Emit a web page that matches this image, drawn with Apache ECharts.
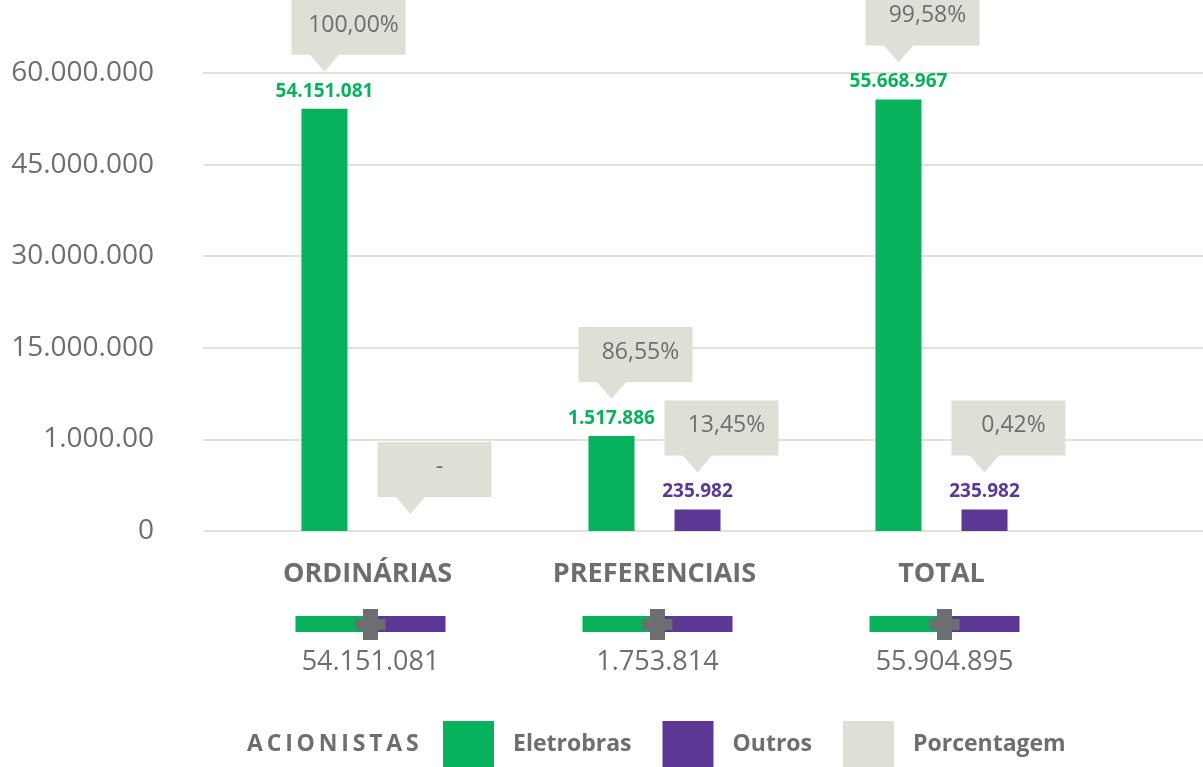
<!DOCTYPE html>
<html>
<head>
<meta charset="utf-8">
<script src="https://cdn.jsdelivr.net/npm/echarts@6/dist/echarts.min.js"></script>
<style>
  html, body { margin: 0; padding: 0; background: #fff; }
  #acionistasChart { width: 1203px; height: 767px; }
</style>
</head>
<body>
<div id="acionistasChart"></div>
<script>
// dados do gráfico
const categories = ['ORDINÁRIAS', 'PREFERENCIAIS', 'TOTAL'];
const eletrobras = [54151081, 1517886, 55668967];
const outros = [0, 235982, 235982];
const pctEletrobras = ['100,00%', '86,55%', '99,58%'];
const pctOutros = ['-', '13,45%', '0,42%'];
const totais = ['54.151.081', '1.753.814', '55.904.895'];
const yTickValues = [0, 1000000, 15000000, 30000000, 45000000, 60000000];
const yTickLabels = ['0', '1.000.00', '15.000.000', '30.000.000', '45.000.000', '60.000.000'];

const GREEN = '#08b15b';
const PURPLE = '#5c3794';
const BEIGE = '#e0dfd6';
const GREY = '#6d6e71';
const FONT = '"Open Sans", sans-serif';
const BAR_W = 46;
const HALF = 43; // distancia do centro da categoria ao centro da barra

// escala quebrada: cada faixa entre ticks ocupa a mesma altura
function toAxis(v) {
  for (let i = 1; i < yTickValues.length; i++) {
    if (v <= yTickValues[i]) {
      return i - 1 + (v - yTickValues[i - 1]) / (yTickValues[i] - yTickValues[i - 1]);
    }
  }
  return yTickValues.length - 1;
}
function fmt(v) {
  return String(v).replace(/\B(?=(\d{3})+(?!\d))/g, '.');
}

const callouts = [];
categories.forEach((c, i) => {
  callouts.push({ cat: i, side: -1, value: eletrobras[i], text: pctEletrobras[i] });
  callouts.push({ cat: i, side: 1, value: outros[i], text: pctOutros[i] });
});

const chart = echarts.init(document.getElementById('acionistasChart'));
chart.setOption({
  animation: false,
  title: {
    text: 'ACIONISTAS'.split('').join('\u2009'),
    left: 247,
    top: 733,
    padding: 0,
    textStyle: { color: GREY, fontFamily: FONT, fontWeight: 'bold', fontSize: 23 }
  },
  legend: {
    data: ['Eletrobras', 'Outros', 'Porcentagem'],
    left: 443,
    top: 721,
    padding: 0,
    icon: 'rect',
    itemWidth: 51,
    itemHeight: 46,
    itemGap: 31,
    textStyle: { color: GREY, fontFamily: FONT, fontWeight: 'bold', fontSize: 23, padding: [0, 0, 0, 14] }
  },
  grid: [
    { left: 203, right: 0, top: 73, height: 458 },
    { left: 224, width: 861, top: 73, height: 458 }
  ],
  xAxis: [
    { type: 'value', gridIndex: 0, min: 0, max: 1, show: false },
    {
      type: 'category', gridIndex: 1, data: categories,
      axisLine: { show: false }, axisTick: { show: false },
      axisLabel: { margin: 30, color: GREY, fontFamily: FONT, fontWeight: 'bold', fontSize: 27 }
    }
  ],
  yAxis: [
    {
      type: 'value', gridIndex: 0, min: 0, max: yTickValues.length - 1, interval: 1,
      axisLine: { show: false }, axisTick: { show: false },
      axisLabel: {
        margin: 49, color: GREY, fontFamily: FONT, fontSize: 28,
        formatter: v => yTickLabels[v]
      },
      splitLine: { lineStyle: { color: '#e3e2d9', width: 2 } }
    },
    { type: 'value', gridIndex: 1, min: 0, max: yTickValues.length - 1, show: false }
  ],
  series: [
    {
      name: 'Eletrobras', type: 'bar', xAxisIndex: 1, yAxisIndex: 1,
      barWidth: BAR_W, barGap: '87%',
      itemStyle: { color: GREEN },
      data: eletrobras.map(v => ({ value: toAxis(v), raw: v })),
      label: {
        show: true, position: 'top', distance: 8, color: GREEN,
        fontFamily: FONT, fontWeight: 'bold', fontSize: 19,
        formatter: p => p.data.raw > 0 ? fmt(p.data.raw) : ''
      }
    },
    {
      name: 'Outros', type: 'bar', xAxisIndex: 1, yAxisIndex: 1,
      barWidth: BAR_W,
      itemStyle: { color: PURPLE },
      data: outros.map(v => ({ value: toAxis(v), raw: v })),
      label: {
        show: true, position: 'top', distance: 8, color: PURPLE,
        fontFamily: FONT, fontWeight: 'bold', fontSize: 19,
        formatter: p => p.data.raw > 0 ? fmt(p.data.raw) : ''
      }
    },
    {
      // balões de porcentagem
      name: 'Porcentagem', type: 'custom', xAxisIndex: 1, yAxisIndex: 1,
      itemStyle: { color: BEIGE },
      data: callouts.map(d => [d.cat, toAxis(d.value)]),
      renderItem: (params, api) => {
        const d = callouts[params.dataIndex];
        const p = api.coord([d.cat, toAxis(d.value)]);
        const tx = p[0] + d.side * HALF;
        const ty = p[1] - (d.value > 0 ? 37 : 17);
        const bx = tx - 33, bw = 114, bh = 55, by = ty - 17 - bh;
        return {
          type: 'group',
          children: [
            { type: 'rect', shape: { x: bx, y: by, width: bw, height: bh }, style: { fill: BEIGE } },
            { type: 'polygon', shape: { points: [[tx - 15, ty - 17.5], [tx + 15, ty - 17.5], [tx, ty]] }, style: { fill: BEIGE } },
            {
              type: 'text',
              style: {
                text: d.text, x: bx + bw / 2 + 5, y: by + bh / 2 - 2,
                align: 'center', verticalAlign: 'middle',
                fill: GREY, font: '23px ' + FONT
              }
            }
          ]
        };
      }
    },
    {
      // barra verde + roxa com sinal de soma e total
      name: 'totais', type: 'custom', xAxisIndex: 1, yAxisIndex: 1,
      silent: true,
      data: categories.map((c, i) => [i, 0]),
      renderItem: (params, api) => {
        const p = api.coord([params.dataIndex, 0]);
        const cx = p[0] + 3, base = p[1];
        return {
          type: 'group',
          children: [
            { type: 'rect', shape: { x: cx - 75, y: base + 85, width: 75, height: 16 }, style: { fill: GREEN } },
            { type: 'rect', shape: { x: cx, y: base + 85, width: 75, height: 16 }, style: { fill: PURPLE } },
            { type: 'rect', shape: { x: cx - 7.5, y: base + 78, width: 15, height: 31 }, style: { fill: GREY } },
            { type: 'rect', shape: { x: cx - 15, y: base + 88, width: 30, height: 11 }, style: { fill: GREY } },
            {
              type: 'text',
              style: {
                text: totais[params.dataIndex], x: cx, y: base + 131,
                align: 'center', verticalAlign: 'middle',
                fill: GREY, font: '27px ' + FONT
              }
            }
          ]
        };
      }
    }
  ]
});
window.addEventListener('resize', chart.resize);
</script>
</body>
</html>
